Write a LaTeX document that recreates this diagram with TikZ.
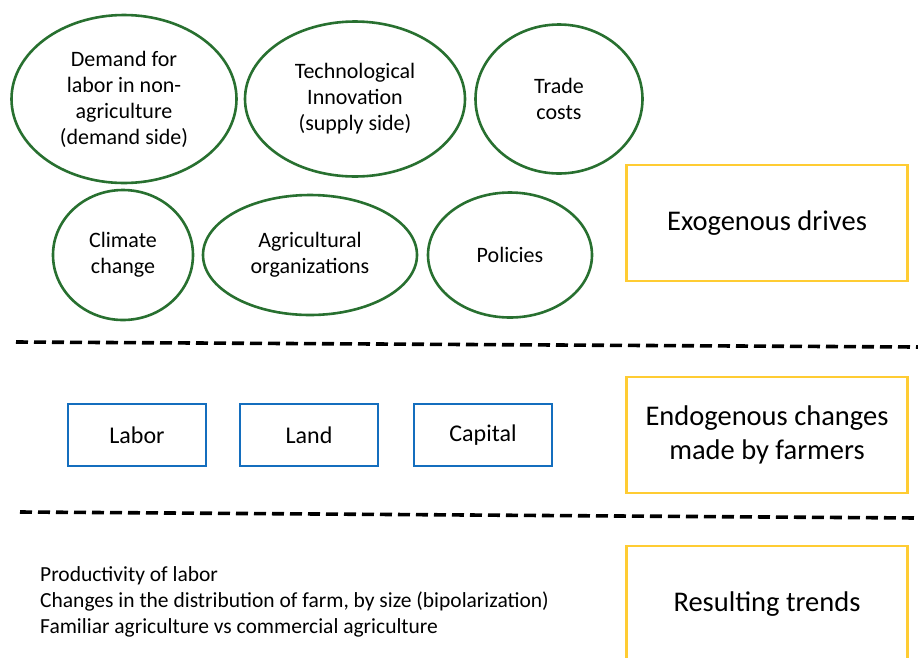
\documentclass[tikz,border=0pt]{standalone}
\usepackage{fontspec}
\setmainfont{Carlito}
\usetikzlibrary{shapes.geometric}
\definecolor{ovgreen}{RGB}{40,112,48}
\definecolor{bxblue}{RGB}{20,110,190}
\definecolor{bxgold}{RGB}{255,204,51}
\tikzset{
  oval/.style={ellipse, draw=ovgreen, line width=2.6pt, align=center, font=\fontsize{22}{26}\selectfont, inner sep=0pt},
  factor/.style={rectangle, draw=bxblue, line width=2.6pt, font=\fontsize{24}{28}\selectfont, minimum width=138pt, minimum height=62pt, inner sep=0pt},
  level/.style={rectangle, draw=bxgold, line width=2.6pt, align=center, font=\fontsize{28.5}{34}\selectfont, minimum width=281pt, inner sep=0pt},
  sep/.style={line width=3.6pt, dash pattern=on 12pt off 6pt}
}
\begin{document}
\begin{tikzpicture}[x=1pt,y=-1pt]
\useasboundingbox (0,0) rectangle (918,657);
% exogenous ovals
\node[oval, minimum width=225pt, minimum height=168pt] (demand) at (124,99) {Demand for\\labor in non-\\agriculture\\(demand side)};
\node[oval, minimum width=220pt, minimum height=155pt] (tech) at (355,99) {Technological\\Innovation\\(supply side)};
\node[oval, minimum width=167pt, minimum height=149pt] (trade) at (559,99) {Trade\\costs};
\node[oval, minimum width=140pt, minimum height=130pt] (climate) at (123,255) {Climate\\change};
\node[oval, minimum width=214pt, minimum height=120pt] (org) at (310,255) {Agricultural\\organizations};
\node[oval, minimum width=164pt, minimum height=125pt] (pol) at (510,255) {Policies};
\node[level, minimum height=116pt] (exo) at (767,223) {Exogenous drives};
% separators
\coordinate (s1a) at (16,342);
\coordinate (s1b) at (918,347);
\coordinate (s2a) at (20,512);
\coordinate (s2b) at (918,518);
\draw[sep] (s1a) -- (s1b);
\draw[sep] (s2a) -- (s2b);
% endogenous
\node[factor] (labor) at (137,435) {Labor};
\node[factor] (land) at (309,435) {Land};
\node[factor] (capital) at (483,435) {Capital};
\node[level, minimum height=116pt] (endo) at (767,435) {Endogenous changes\\made by farmers};
% results
\node[anchor=north west, align=left, inner sep=0pt, font=\fontsize{21.5}{26}\selectfont] (trends) at (40,566) {Productivity of labor\\Changes in the distribution of farm, by size (bipolarization)\\Familiar agriculture vs commercial agriculture};
\node[level, minimum height=116pt] (res) at (767,604) {Resulting trends};
\end{tikzpicture}
\end{document}
